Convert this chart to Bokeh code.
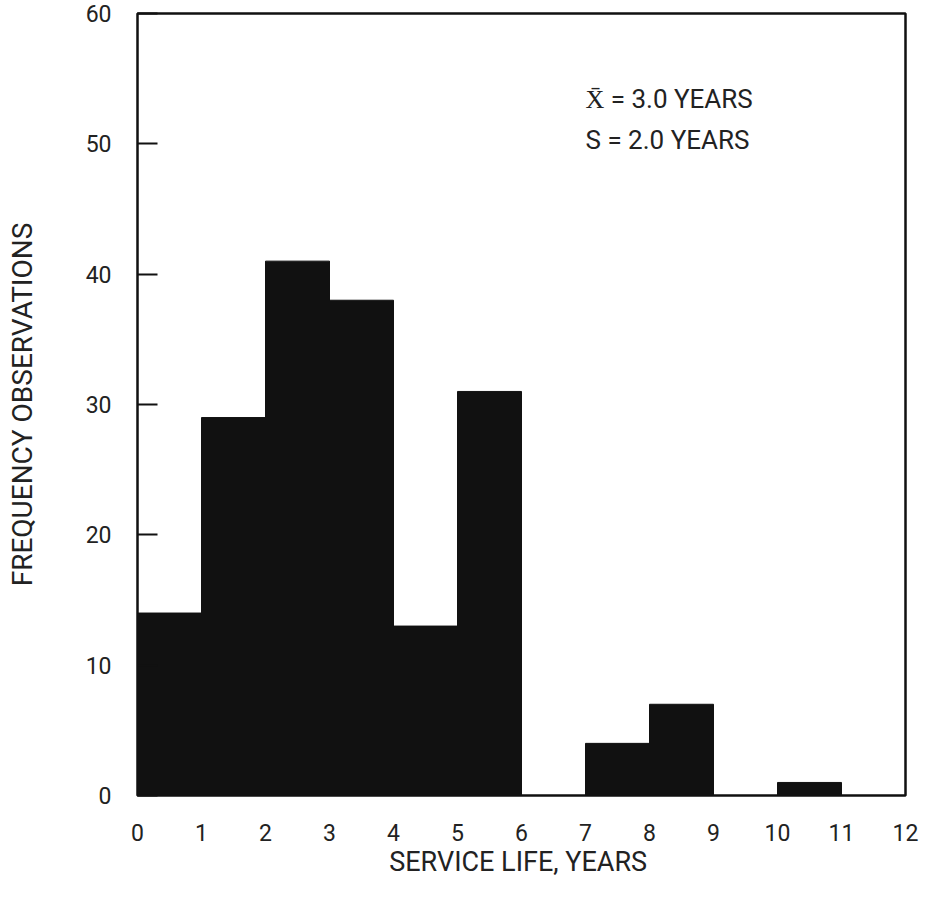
from bokeh.plotting import figure
from bokeh.models import ColumnDataSource, FixedTicker, Label
from bokeh.embed import file_html
from bokeh.resources import INLINE

# Histogram data: service life bins (years) and frequency observations
bin_left = [0, 1, 2, 3, 4, 5, 6, 7, 8, 9, 10, 11]
bin_right = [1, 2, 3, 4, 5, 6, 7, 8, 9, 10, 11, 12]
frequency = [14, 29, 41, 38, 13, 31, 0, 4, 7, 0, 1, 0]
x_ticks = [0, 1, 2, 3, 4, 5, 6, 7, 8, 9, 10, 11, 12]
y_ticks = [0, 10, 20, 30, 40, 50, 60]
stat_lines = ["X\u0304 = 3.0 YEARS", "S = 2.0 YEARS"]

FONT = "Roboto"

p = figure(width=922, height=890, x_range=(0, 12), y_range=(0, 60),
           output_backend="svg", toolbar_location=None,
           min_border_left=137, min_border_right=17, min_border_top=13,
           min_border_bottom=95)
p.background_fill_color = "white"
p.border_fill_color = "white"
p.outline_line_color = "#111111"
p.outline_line_width = 2.5
p.xgrid.visible = False
p.ygrid.visible = False

src = ColumnDataSource(dict(left=bin_left, right=bin_right, top=frequency,
                            bottom=[0] * len(frequency)))
p.quad(left="left", right="right", top="top", bottom="bottom", source=src,
       fill_color="#111111", line_color="#111111", line_width=1)

# x axis
p.xaxis.ticker = FixedTicker(ticks=x_ticks)
p.xaxis.axis_line_color = None
p.xaxis.major_tick_line_color = None
p.xaxis.minor_tick_line_color = None
p.xaxis.major_label_standoff = 22
p.xaxis.major_label_text_font = FONT
p.xaxis.major_label_text_font_size = "23px"
p.xaxis.major_label_text_color = "#222222"
p.xaxis.axis_label = "SERVICE LIFE,  YEARS"
p.xaxis.axis_label_text_font = FONT
p.xaxis.axis_label_text_font_size = "27px"
p.xaxis.axis_label_text_font_style = "normal"
p.xaxis.axis_label_text_color = "#222222"
p.xaxis.axis_label_standoff = 2

# y axis
p.yaxis.ticker = FixedTicker(ticks=y_ticks)
p.yaxis.axis_line_color = None
p.yaxis.major_tick_in = 20
p.yaxis.major_tick_out = 0
p.yaxis.major_tick_line_width = 2
p.yaxis.major_tick_line_color = "#111111"
p.yaxis.minor_tick_line_color = None
p.yaxis.major_label_standoff = 26
p.yaxis.major_label_text_font = FONT
p.yaxis.major_label_text_font_size = "23px"
p.yaxis.major_label_text_color = "#222222"
p.yaxis.axis_label = "FREQUENCY OBSERVATIONS"
p.yaxis.axis_label_text_font = FONT
p.yaxis.axis_label_text_font_size = "28px"
p.yaxis.axis_label_text_font_style = "normal"
p.yaxis.axis_label_text_color = "#222222"
p.yaxis.axis_label_standoff = 44

for i, txt in enumerate(stat_lines):
    p.add_layout(Label(x=7.0, y=52.3 - 3.15 * i, text=txt,
                       text_font=FONT, text_font_size="26px",
                       text_color="#222222", text_baseline="bottom"))

open("out.html", "w").write(file_html(p, INLINE))
